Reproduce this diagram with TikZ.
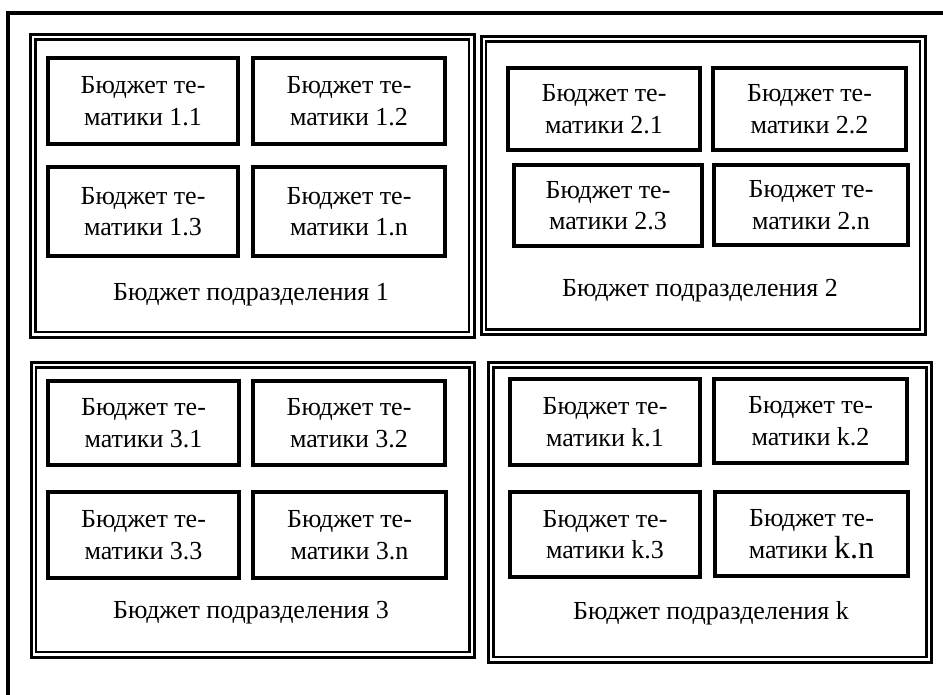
\documentclass[tikz,border=0pt]{standalone}
\usepackage{fontspec}
\setmainfont{Liberation Serif}
\begin{document}
\begin{tikzpicture}[x=1pt,y=-1pt,
  frame/.style={line width=4pt},
  pout/.style={line width=3pt},
  pin/.style={line width=2.5pt},
  tbox/.style={draw,line width=4pt,inner sep=0pt,align=center,
    font=\fontsize{26}{31.5}\selectfont},
  plabel/.style={inner sep=0pt,font=\fontsize{26}{31.5}\selectfont}]
\useasboundingbox (0,0) rectangle (943,694);
% outer frame (cropped)
\draw[frame] (7.5,700) -- (7.5,13) -- (950,13);
% panels
\newcommand\mypanel[4]{%
  \draw[pout] (#1,#2) rectangle (#3,#4);
  \draw[pin] ({#1+5},{#2+5}) rectangle ({#3-5},{#4-5});}
\mypanel{30.5}{34.5}{474}{337}
\mypanel{481}{36.5}{925}{334.5}
\mypanel{31}{362.5}{474.5}{657}
\mypanel{488.5}{362.5}{931.5}{662}
% panel 1
\node[tbox,minimum width=190,minimum height=86] (t11) at (143,101) {Бюджет те-\\матики 1.1};
\node[tbox,minimum width=192,minimum height=86] (t12) at (349,101) {Бюджет те-\\матики 1.2};
\node[tbox,minimum width=190,minimum height=89] (t13) at (143,211.5) {Бюджет те-\\матики 1.3};
\node[tbox,minimum width=192,minimum height=89] (t1n) at (349,211.5) {Бюджет те-\\матики 1.n};
\node[plabel] (l1) at (251,295) {Бюджет подразделения 1};
% panel 2
\node[tbox,minimum width=192,minimum height=82] (t21) at (604,109) {Бюджет те-\\матики 2.1};
\node[tbox,minimum width=193,minimum height=82] (t22) at (809.5,109) {Бюджет те-\\матики 2.2};
\node[tbox,minimum width=188,minimum height=81] (t23) at (608,205.5) {Бюджет те-\\матики 2.3};
\node[tbox,minimum width=194,minimum height=80] (t2n) at (811,205) {Бюджет те-\\матики 2.n};
\node[plabel] (l2) at (700,291) {Бюджет подразделения 2};
% panel 3
\node[tbox,minimum width=191,minimum height=84] (t31) at (143.5,423) {Бюджет те-\\матики 3.1};
\node[tbox,minimum width=192,minimum height=84] (t32) at (349,423) {Бюджет те-\\матики 3.2};
\node[tbox,minimum width=191,minimum height=86] (t33) at (143.5,535) {Бюджет те-\\матики 3.3};
\node[tbox,minimum width=193,minimum height=86] (t3n) at (349.5,535) {Бюджет те-\\матики 3.n};
\node[plabel] (l3) at (251,613) {Бюджет подразделения 3};
% panel k
\node[tbox,minimum width=190,minimum height=86] (tk1) at (605,422) {Бюджет те-\\матики k.1};
\node[tbox,minimum width=193,minimum height=84] (tk2) at (810.5,421) {Бюджет те-\\матики k.2};
\node[tbox,minimum width=190,minimum height=85] (tk3) at (605,534.5) {Бюджет те-\\матики k.3};
\node[tbox,minimum width=193,minimum height=84] (tkn) at (811.5,534) {Бюджет те-\\матики {\fontsize{32}{31.5}\selectfont k.n}};
\node[plabel] (lk) at (711,613) {Бюджет подразделения k};
\end{tikzpicture}
\end{document}
